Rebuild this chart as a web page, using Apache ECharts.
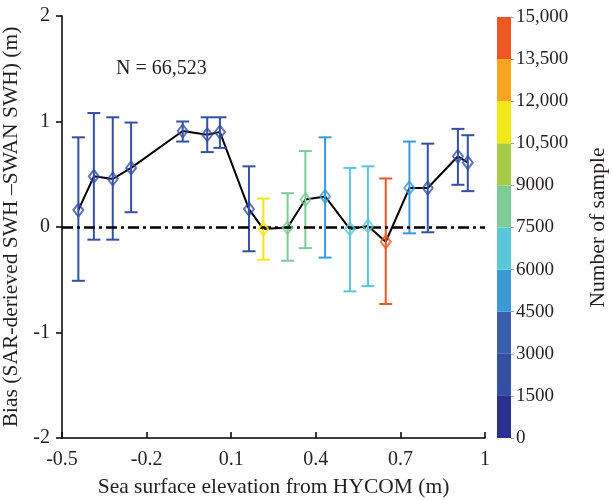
<!DOCTYPE html>
<html>
<head>
<meta charset="utf-8">
<script src="https://cdn.jsdelivr.net/npm/echarts@6/dist/echarts.min.js"></script>
<style>html,body{margin:0;padding:0;background:#fff}#c{width:612px;height:500px}</style>
</head>
<body>
<div id="c"></div>
<script>
// ---- data ----
const elev   = [-0.442,-0.387,-0.32,-0.255,-0.072,0.015,0.06,0.163,0.214,0.30,0.363,0.433,0.521,0.585,0.648,0.732,0.797,0.904,0.939];
const bias   = [0.16,0.48,0.455,0.56,0.91,0.875,0.90,0.17,-0.02,-0.005,0.26,0.29,-0.02,0.01,-0.14,0.37,0.37,0.67,0.61];
const upper  = [0.85,1.08,1.04,0.99,1.0,1.04,1.04,0.575,0.27,0.32,0.72,0.85,0.56,0.575,0.46,0.81,0.79,0.93,0.87];
const lower  = [-0.51,-0.12,-0.12,0.14,0.81,0.71,0.75,-0.23,-0.31,-0.32,-0.20,-0.29,-0.61,-0.56,-0.73,-0.06,-0.05,0.40,0.34];
const counts = [2100,2400,2300,2600,2200,2500,2300,2700,11200,8100,8400,5200,6800,6600,14200,4900,2800,2000,1900];
const xTicks = [-0.5,-0.2,0.1,0.4,0.7,1];
const bandEdges  = [0,1500,3000,4500,6000,7500,9000,10500,12000,13500,15000];
const bandColors = ['#2a3190','#3450a5','#3a5dae','#3a9ad8','#5bc8da','#7ecb98','#a8cc4a','#f2e817','#f9a51f','#ee5723'];
const totalN = '66,523';

function colorFor(v){
  for(let i=0;i<bandColors.length;i++){ if(v<bandEdges[i+1]) return bandColors[i]; }
  return bandColors[bandColors.length-1];
}
const F = 'Liberation Serif';
const TXT = '#231f20';

const chart = echarts.init(document.getElementById('c'), null, {renderer:'canvas'});

const errData = elev.map((x,i)=>[x, lower[i], upper[i], counts[i]]);
const ptData = elev.map((x,i)=>({value:[x,bias[i]], itemStyle:{borderColor:colorFor(counts[i])}}));
const lineData = elev.map((x,i)=>[x,bias[i]]);

const bandSeries = bandColors.map((c,i)=>({
  type:'bar', xAxisIndex:1, yAxisIndex:1, stack:'cb', barWidth:'100%',
  data:[bandEdges[i+1]-bandEdges[i]], itemStyle:{color:c}, silent:true
}));

chart.setOption({
  animation:false,
  backgroundColor:'#fff',
  textStyle:{fontFamily:F},
  grid:[
    {left:62, right:127, top:16, bottom:62, containLabel:false, outerBoundsMode:'none'},
    {left:497, width:14, top:17, bottom:62, containLabel:false, outerBoundsMode:'none'}
  ],
  xAxis:[{
    type:'value', min:-0.5, max:1, gridIndex:0,
    name:'Sea surface elevation from HYCOM (m)', nameLocation:'middle', nameGap:38,
    nameTextStyle:{fontFamily:F, fontSize:21.5, color:TXT},
    axisLine:{onZero:false, lineStyle:{color:'#000', width:1.5}},
    axisTick:{inside:true, length:6, lineStyle:{color:'#000', width:1.5}, customValues:xTicks},
    axisLabel:{fontFamily:F, fontSize:20, color:TXT, margin:12, customValues:xTicks,
      formatter:v=>String(Math.round(v*10)/10)},
    splitLine:{show:false}
  },{
    type:'category', gridIndex:1, data:['n'], show:false
  }],
  yAxis:[{
    type:'value', min:-2, max:2, interval:1, gridIndex:0,
    name:'Bias (SAR-derieved SWH \u2013SWAN SWH) (m)', nameLocation:'middle', nameGap:29,
    nameTextStyle:{fontFamily:F, fontSize:21.5, color:TXT},
    axisLine:{show:true, onZero:false, lineStyle:{color:'#000', width:1.5}},
    axisTick:{show:true, length:6, lineStyle:{color:'#000', width:1.5}},
    axisLabel:{fontFamily:F, fontSize:20, color:TXT, margin:12},
    splitLine:{show:false}
  },{
    type:'value', min:0, max:15000, interval:1500, gridIndex:1, position:'right',
    name:'Number of sample', nameLocation:'middle', nameGap:76, nameRotate:90,
    nameTextStyle:{fontFamily:F, fontSize:21.5, color:TXT},
    axisLine:{show:false},
    axisTick:{show:true, length:3, lineStyle:{color:'#aaa'}},
    axisLabel:{fontFamily:F, fontSize:19, color:TXT, margin:5,
      formatter:v=> v>=10000 ? v.toLocaleString('en-US') : String(v)},
    splitLine:{show:false}
  }],
  graphic:[{
    type:'text', left:116, top:59,
    style:{text:'N = '+totalN, font:'20px "Liberation Serif"', fill:TXT}
  }],
  series:[
    {
      type:'line', data:lineData, symbol:'none', z:3,
      lineStyle:{color:'#000', width:2},
      markLine:{
        silent:true, symbol:'none', label:{show:false},
        lineStyle:{color:'#000', width:2.5, type:[11,4,3,4]},
        data:[{yAxis:0}]
      }
    },
    {
      type:'custom', data:errData, z:4,
      renderItem:function(params, api){
        const x=api.value(0), lo=api.value(1), hi=api.value(2), c=api.value(3);
        const pLo=api.coord([x,lo]), pHi=api.coord([x,hi]);
        const col=colorFor(c), hw=6.5;
        const st={stroke:col, lineWidth:2};
        return {type:'group', children:[
          {type:'line', shape:{x1:pLo[0],y1:pLo[1],x2:pHi[0],y2:pHi[1]}, style:st},
          {type:'line', shape:{x1:pLo[0]-hw,y1:pLo[1],x2:pLo[0]+hw,y2:pLo[1]}, style:st},
          {type:'line', shape:{x1:pHi[0]-hw,y1:pHi[1],x2:pHi[0]+hw,y2:pHi[1]}, style:st}
        ]};
      }
    },
    {
      type:'scatter', data:ptData, symbol:'diamond', symbolSize:[10,13], z:5,
      itemStyle:{color:'rgba(255,255,255,0)', borderWidth:2}
    }
  ].concat(bandSeries)
});
</script>
</body>
</html>
